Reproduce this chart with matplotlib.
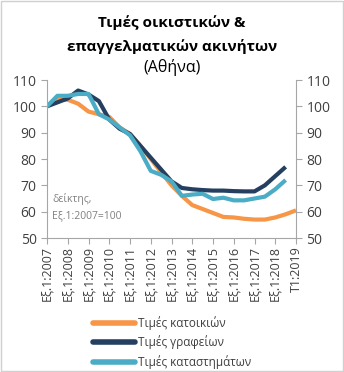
import matplotlib
matplotlib.use("Agg")
import matplotlib.pyplot as plt
from matplotlib.patches import Rectangle

# half-year periods, Εξ.1:2007 ... Εξ.2:2018, then Τ1:2019
years = list(range(2007, 2019))
periods = [f"Εξ.{h}:{y}" for y in years for h in (1, 2)] + ["Τ1:2019"]

homes = [100, 102.5, 102.5, 101, 98, 97, 96, 92, 89.5, 85, 80, 75, 70,
         66, 62.5, 61, 59.5, 58, 57.8, 57.3, 57, 57, 57.8, 59, 60.5]
offices = [100, 101.5, 103, 106, 104.5, 102, 95, 91.5, 89.5, 85, 80.5, 76,
           71.5, 69, 68.5, 68.2, 68, 68, 67.8, 67.7, 67.7, 70, 73.5, 77]
shops = [100, 104, 104, 104.7, 104.7, 97, 95, 92, 89, 83, 75.5, 74, 71.5,
         66, 66.5, 66.8, 64.8, 65.3, 64.3, 64.3, 65, 65.7, 68.5, 72]

C_HOMES = "#F79646"
C_OFFICES = "#243F60"
C_SHOPS = "#4BACC6"
GRID = "#A6A6A6"

plt.rcParams["font.family"] = ["Open Sans", "DejaVu Sans"]

fig = plt.figure(figsize=(3.44, 3.72), dpi=100)
fig.patches.append(Rectangle((0.002, 0.002), 0.994, 0.994, transform=fig.transFigure,
                             fill=False, edgecolor="#D0D0D0", lw=1))

ax = fig.add_axes([47 / 344, 1 - 238 / 372, (296 - 47) / 344, (238 - 80) / 372])
x = list(range(len(periods)))
lw = 3
ax.plot(x[:len(homes)], homes, color=C_HOMES, lw=lw, label="Τιμές κατοικιών", solid_capstyle="butt")
ax.plot(x[:len(offices)], offices, color=C_OFFICES, lw=lw, label="Τιμές γραφείων", solid_capstyle="butt")
ax.plot(x[:len(shops)], shops, color=C_SHOPS, lw=lw, label="Τιμές καταστημάτων", solid_capstyle="butt")

ax.set_xlim(0, len(periods) - 1)
ax.set_ylim(50, 110)
ax.set_yticks(range(50, 111, 10))
ax.set_xticks(x[::2])
ax.set_xticklabels(periods[::2], rotation=90, fontsize=9, color="#404040")
ax.tick_params(axis="y", labelsize=10, colors="#404040", length=4, color=GRID,
               labelleft=True, labelright=True, left=True, right=True)
ax.tick_params(axis="x", length=4, color=GRID, pad=2)
ax.spines["top"].set_visible(False)
for s in ("left", "right", "bottom"):
    ax.spines[s].set_color(GRID)
    ax.spines[s].set_linewidth(0.8)

ax.text(0.5, 56.5, "δείκτης,\nΕξ.1:2007=100", fontsize=7.5, color="#808080",
        va="bottom", ha="left", linespacing=1.6)

fig.text(0.5, 1 - 23 / 372, "Τιμές οικιστικών &", ha="center", va="center",
         fontsize=11, fontweight="bold", color="#000000")
fig.text(0.5, 1 - 46 / 372, "επαγγελματικών ακινήτων", ha="center", va="center",
         fontsize=11, fontweight="bold", color="#000000")
fig.text(0.5, 1 - 68 / 372, "(Αθήνα)", ha="center", va="center",
         fontsize=11.5, color="#000000")

leg = fig.legend(loc="upper center", bbox_to_anchor=(0.5, 1 - 310 / 372), frameon=False,
                 fontsize=8.5, handlelength=3.6, labelspacing=0.5, handletextpad=0.2,
                 labelcolor="#404040", borderpad=0)
for h in leg.legend_handles:
    h.set_linewidth(4)
    h.set_solid_capstyle("round")

fig.savefig("out.png", dpi=100)
